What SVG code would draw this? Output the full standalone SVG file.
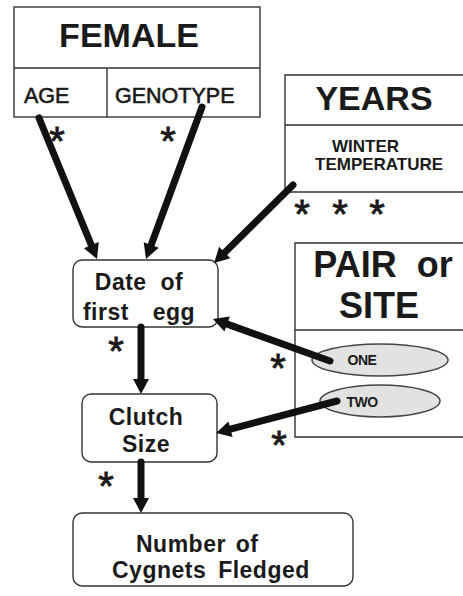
<svg xmlns="http://www.w3.org/2000/svg" width="463" height="596" viewBox="0 0 463 596">
  <style>
    .frame { fill: none; stroke: #333; stroke-width: 1.4; }
    .box { fill: #fff; stroke: #333; stroke-width: 1.4; }
    .oval { fill: #e2e2e2; stroke: #444; stroke-width: 1.5; }
    .t { font-family: "Liberation Sans", Arial, sans-serif; fill: #1a1a1a; }
    .big { font-size: 34px; font-weight: bold; }
    .sub { font-size: 21.5px; stroke: #1a1a1a; stroke-width: 0.6px; }
    .mid { font-size: 17px; font-weight: bold; }
    .lbl { font-size: 23px; font-weight: bold; letter-spacing: 0.5px; }
    .tag { font-size: 14px; font-weight: bold; letter-spacing: -0.5px; }
    .star { font-family: "Liberation Sans", Arial, sans-serif; font-size: 40px; fill: #1a1a1a; stroke: #1a1a1a; stroke-width: 0.8px; text-anchor: middle; }
    .arrow { stroke: #111; stroke-width: 7; stroke-linecap: round; fill: none; marker-end: url(#head); }
  </style>
  <defs>
    <marker id="head" markerUnits="userSpaceOnUse" markerWidth="18" markerHeight="18" viewBox="0 -9 16 18" refX="2" refY="0" orient="auto">
      <path d="M0,-8 L15,0 L0,8 Z" fill="#111"/>
    </marker>
  </defs>

  <rect width="463" height="596" fill="#fff"/>

  <!-- FEMALE: title with AGE / GENOTYPE cells -->
  <g id="female">
    <rect class="frame" x="14" y="7" width="246" height="110"/>
    <line class="frame" x1="14" y1="68" x2="260" y2="68"/>
    <line class="frame" x1="107" y1="68" x2="107" y2="117"/>
    <text class="t big" x="129" y="47" text-anchor="middle">FEMALE</text>
    <text class="t sub" x="24" y="103">AGE</text>
    <text class="t sub" x="115" y="103">GENOTYPE</text>
  </g>

  <!-- YEARS: open on the right edge -->
  <g id="years">
    <path class="frame" d="M463,75 H285 V192 H463 M285,125 H463"/>
    <text class="t big" x="374" y="110" text-anchor="middle">YEARS</text>
    <text class="t mid" x="332" y="152">WINTER</text>
    <text class="t mid" x="315" y="170">TEMPERATURE</text>
  </g>

  <!-- PAIR or SITE: open on the right edge, with ONE / TWO ovals -->
  <g id="pair-site">
    <path class="frame" d="M463,243 H295 V437 H463 M295,330 H463"/>
    <text class="t big" x="383" y="277" text-anchor="middle" style="font-size:36px; word-spacing:10px">PAIR or</text>
    <text class="t big" x="379" y="318" text-anchor="middle" style="font-size:36px">SITE</text>
  </g>
  <g id="one">
    <ellipse class="oval" cx="380" cy="360" rx="68" ry="16"/>
    <text class="t tag" x="362" y="365" text-anchor="middle">ONE</text>
  </g>
  <g id="two">
    <ellipse class="oval" cx="380" cy="401" rx="60" ry="16"/>
    <text class="t tag" x="362" y="407" text-anchor="middle">TWO</text>
  </g>

  <!-- outcome boxes -->
  <g id="date-first-egg">
    <rect class="box" x="73" y="260" width="145" height="67" rx="9"/>
    <text class="t lbl" x="139" y="290" text-anchor="middle" style="word-spacing:7px">Date of</text>
    <text class="t lbl" x="139" y="320" text-anchor="middle" style="word-spacing:17px">first egg</text>
  </g>
  <g id="clutch-size">
    <rect class="box" x="82" y="394" width="135" height="68" rx="9"/>
    <text class="t lbl" x="146" y="425" text-anchor="middle">Clutch</text>
    <text class="t lbl" x="146" y="452" text-anchor="middle">Size</text>
  </g>
  <g id="cygnets-fledged">
    <rect class="box" x="73" y="513" width="280" height="73" rx="9"/>
    <text class="t lbl" x="136" y="552" style="word-spacing:3px">Number of</text>
    <text class="t lbl" x="112" y="578" style="word-spacing:5px">Cygnets Fledged</text>
  </g>

  <!-- connectors -->
  <g id="connectors">
    <line class="arrow" x1="39" y1="118" x2="92.1" y2="247"/>
    <line class="arrow" x1="202" y1="107" x2="150.5" y2="246.8"/>
    <line class="arrow" x1="293" y1="185" x2="223.3" y2="253.9"/>
    <line class="arrow" x1="141" y1="327" x2="141" y2="381"/>
    <line class="arrow" x1="330" y1="361" x2="225.2" y2="323.4"/>
    <line class="arrow" x1="337" y1="401" x2="228.6" y2="429.7"/>
    <line class="arrow" x1="141" y1="462" x2="141" y2="500"/>
  </g>

  <!-- significance marks -->
  <g id="stars">
    <text class="star" x="57" y="155">*</text>
    <text class="star" x="168" y="155">*</text>
    <text class="star" x="302" y="228">*</text>
    <text class="star" x="340" y="228">*</text>
    <text class="star" x="377" y="228">*</text>
    <text class="star" x="116" y="365">*</text>
    <text class="star" x="278" y="382">*</text>
    <text class="star" x="279" y="459">*</text>
    <text class="star" x="106" y="500">*</text>
  </g>
</svg>
